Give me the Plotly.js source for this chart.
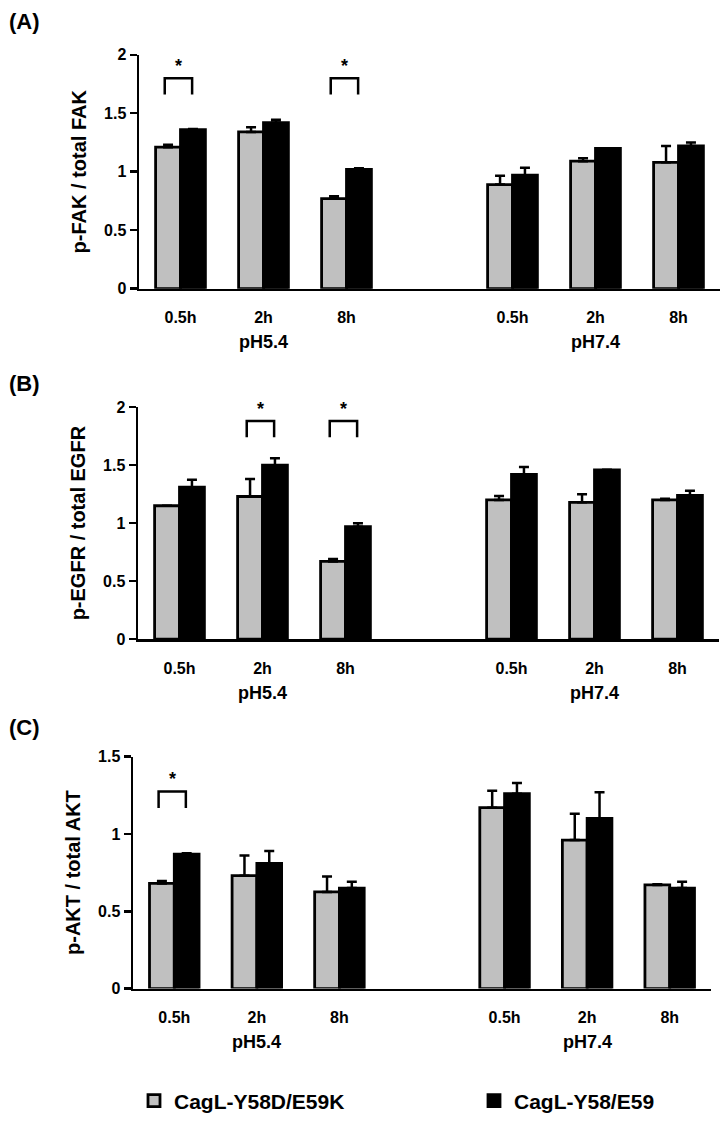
<!DOCTYPE html>
<html>
<head>
<meta charset="utf-8">
<script src="https://cdn.plot.ly/plotly-3.0.1.min.js"></script>
<style>html,body{margin:0;padding:0;background:#fff;}#chart{width:726px;height:1122px;}</style>
</head>
<body>
<div id="chart"></div>
<script>
// ---------- data ----------
const timepoints = ['0.5h', '2h', '8h'];
const phLabels = ['pH5.4', 'pH7.4'];
const seriesNames = ['CagL-Y58D/E59K', 'CagL-Y58/E59'];

// (A) p-FAK / total FAK  (order: pH5.4 0.5h,2h,8h, pH7.4 0.5h,2h,8h)
const fakMutant = [1.21, 1.34, 0.77, 0.89, 1.09, 1.08];
const fakMutantErr = [0.02, 0.04, 0.02, 0.075, 0.025, 0.14];
const fakWild = [1.36, 1.42, 1.02, 0.97, 1.20, 1.22];
const fakWildErr = [0.005, 0.025, 0.01, 0.065, 0.0, 0.03];
const sigFak = [0, 2];

// (B) p-EGFR / total EGFR
const egfrMutant = [1.15, 1.23, 0.67, 1.20, 1.18, 1.20];
const egfrMutantErr = [0.0, 0.15, 0.02, 0.035, 0.07, 0.01];
const egfrWild = [1.31, 1.50, 0.97, 1.42, 1.46, 1.24];
const egfrWildErr = [0.065, 0.06, 0.03, 0.065, 0.0, 0.04];
const sigEgfr = [1, 2];

// (C) p-AKT / total AKT
const aktMutant = [0.68, 0.73, 0.625, 1.17, 0.96, 0.67];
const aktMutantErr = [0.015, 0.13, 0.10, 0.11, 0.17, 0.005];
const aktWild = [0.87, 0.81, 0.65, 1.26, 1.10, 0.65];
const aktWildErr = [0.005, 0.08, 0.04, 0.07, 0.17, 0.04];
const sigAkt = [0];

// ---------- build ----------
const W = 726, H = 1122;
const FONT = 'Liberation Sans, Arial, sans-serif';
const positions = [];
const tickText = [];
phLabels.forEach((p, g) => timepoints.forEach((t, i) => { positions.push(g * 4 + i); tickText.push(t); }));

const panels = [
  {mut: fakMutant, mutErr: fakMutantErr, wt: fakWild, wtErr: fakWildErr, sig: sigFak,
   title: 'p-FAK / total FAK', label: '(A)', yMax: 2, px: [139, 720], py: [55, 290], br: [1.66, 1.80], labelY: 22},
  {mut: egfrMutant, mutErr: egfrMutantErr, wt: egfrWild, wtErr: egfrWildErr, sig: sigEgfr,
   title: 'p-EGFR / total EGFR', label: '(B)', yMax: 2, px: [138, 719], py: [409, 642], br: [1.74, 1.88], labelY: 385},
  {mut: aktMutant, mutErr: aktMutantErr, wt: aktWild, wtErr: aktWildErr, sig: sigAkt,
   title: 'p-AKT / total AKT', label: '(C)', yMax: 1.5, px: [133, 711], py: [760, 993], br: [1.167, 1.275], labelY: 731}
];

const legendFont = {family: FONT, size: 21, weight: 'bold', color: '#000'};
const traces = [];
const layout = {
  width: W, height: H,
  margin: {l: 0, r: 0, t: 0, b: 0},
  paper_bgcolor: '#ffffff', plot_bgcolor: 'rgba(0,0,0,0)',
  barmode: 'group', bargap: 0.4, bargroupgap: 0,
  font: {family: FONT, color: '#000'},
  showlegend: true,
  legend: {orientation: 'h', x: 134 / W, y: 1 - 1106 / H, xanchor: 'left', yanchor: 'middle',
           font: legendFont, itemwidth: 30, bgcolor: 'rgba(0,0,0,0)'},
  legend2: {orientation: 'h', x: 474 / W, y: 1 - 1106 / H, xanchor: 'left', yanchor: 'middle',
           font: legendFont, itemwidth: 30, bgcolor: 'rgba(0,0,0,0)'},
  shapes: [], annotations: []
};

panels.forEach((p, k) => {
  const sfx = k === 0 ? '' : String(k + 1);
  const xa = 'x' + sfx, ya = 'y' + sfx;
  const zeros = p.mut.map(() => 0);
  traces.push({
    type: 'bar', name: seriesNames[0], x: positions, y: p.mut, xaxis: xa, yaxis: ya,
    legend: 'legend', legendgroup: 'mut', showlegend: k === 0,
    marker: {color: '#c0c0c0', line: {color: '#000', width: 2.8}},
    error_y: {type: 'data', symmetric: false, array: p.mutErr, arrayminus: zeros, color: '#000', thickness: 2.5, width: 5},
    hoverinfo: 'skip'
  });
  traces.push({
    type: 'bar', name: seriesNames[1], x: positions, y: p.wt, xaxis: xa, yaxis: ya,
    legend: 'legend2', legendgroup: 'wt', showlegend: k === 0,
    marker: {color: '#000000', line: {color: '#000', width: 2.8}},
    error_y: {type: 'data', symmetric: false, array: p.wtErr, arrayminus: zeros, color: '#000', thickness: 2.5, width: 5},
    hoverinfo: 'skip'
  });

  layout['xaxis' + sfx] = {
    domain: [p.px[0] / W, p.px[1] / W], anchor: ya, range: [-0.5, 6.5],
    showline: true, linecolor: '#000', linewidth: 2.5, showgrid: false, zeroline: false,
    tickmode: 'array', tickvals: positions, ticktext: tickText, ticks: '',
    ticklabelstandoff: 13,
    tickfont: {family: FONT, size: 16, weight: 'bold', color: '#000'}, fixedrange: true
  };
  layout['yaxis' + sfx] = {
    domain: [1 - p.py[1] / H, 1 - p.py[0] / H], anchor: xa, range: [0, p.yMax],
    showline: true, linecolor: '#000', linewidth: 2.5, showgrid: false, zeroline: false,
    dtick: 0.5, ticks: 'outside', ticklen: 7, tickwidth: 2.5, tickcolor: '#000',
    tickfont: {family: FONT, size: 16, weight: 'bold', color: '#000'},
    title: {text: p.title, font: {family: FONT, size: 20, weight: 'bold', color: '#000'}, standoff: 12},
    automargin: false, fixedrange: true
  };

  // group (pH) labels
  phLabels.forEach((ph, g) => {
    layout.annotations.push({
      text: ph, xref: xa, yref: 'paper', x: g * 4 + 1, y: 1 - (p.py[1] + 54) / H,
      xanchor: 'center', yanchor: 'middle', showarrow: false,
      font: {family: FONT, size: 18, weight: 'bold', color: '#000'}
    });
  });

  // panel label
  layout.annotations.push({
    text: p.label, xref: 'paper', yref: 'paper', x: 7 / W, y: 1 - p.labelY / H,
    xanchor: 'left', yanchor: 'middle', showarrow: false,
    font: {family: FONT, size: 22, weight: 'bold', color: '#000'}
  });

  // significance brackets
  p.sig.forEach(i => {
    const c = positions[i];
    const x0 = c - 0.19, x1 = c + 0.14;
    layout.shapes.push({
      type: 'path', xref: xa, yref: ya,
      path: `M${x0},${p.br[0]} L${x0},${p.br[1]} L${x1},${p.br[1]} L${x1},${p.br[0]}`,
      line: {color: '#000', width: 2.5}
    });
    layout.annotations.push({
      text: '*', xref: xa, yref: ya, x: (x0 + x1) / 2, y: p.br[1],
      xanchor: 'center', yanchor: 'bottom', showarrow: false,
      font: {family: FONT, size: 18, weight: 'bold', color: '#000'}
    });
  });
});

Plotly.newPlot('chart', traces, layout, {staticPlot: true, displayModeBar: false});
</script>
</body>
</html>
